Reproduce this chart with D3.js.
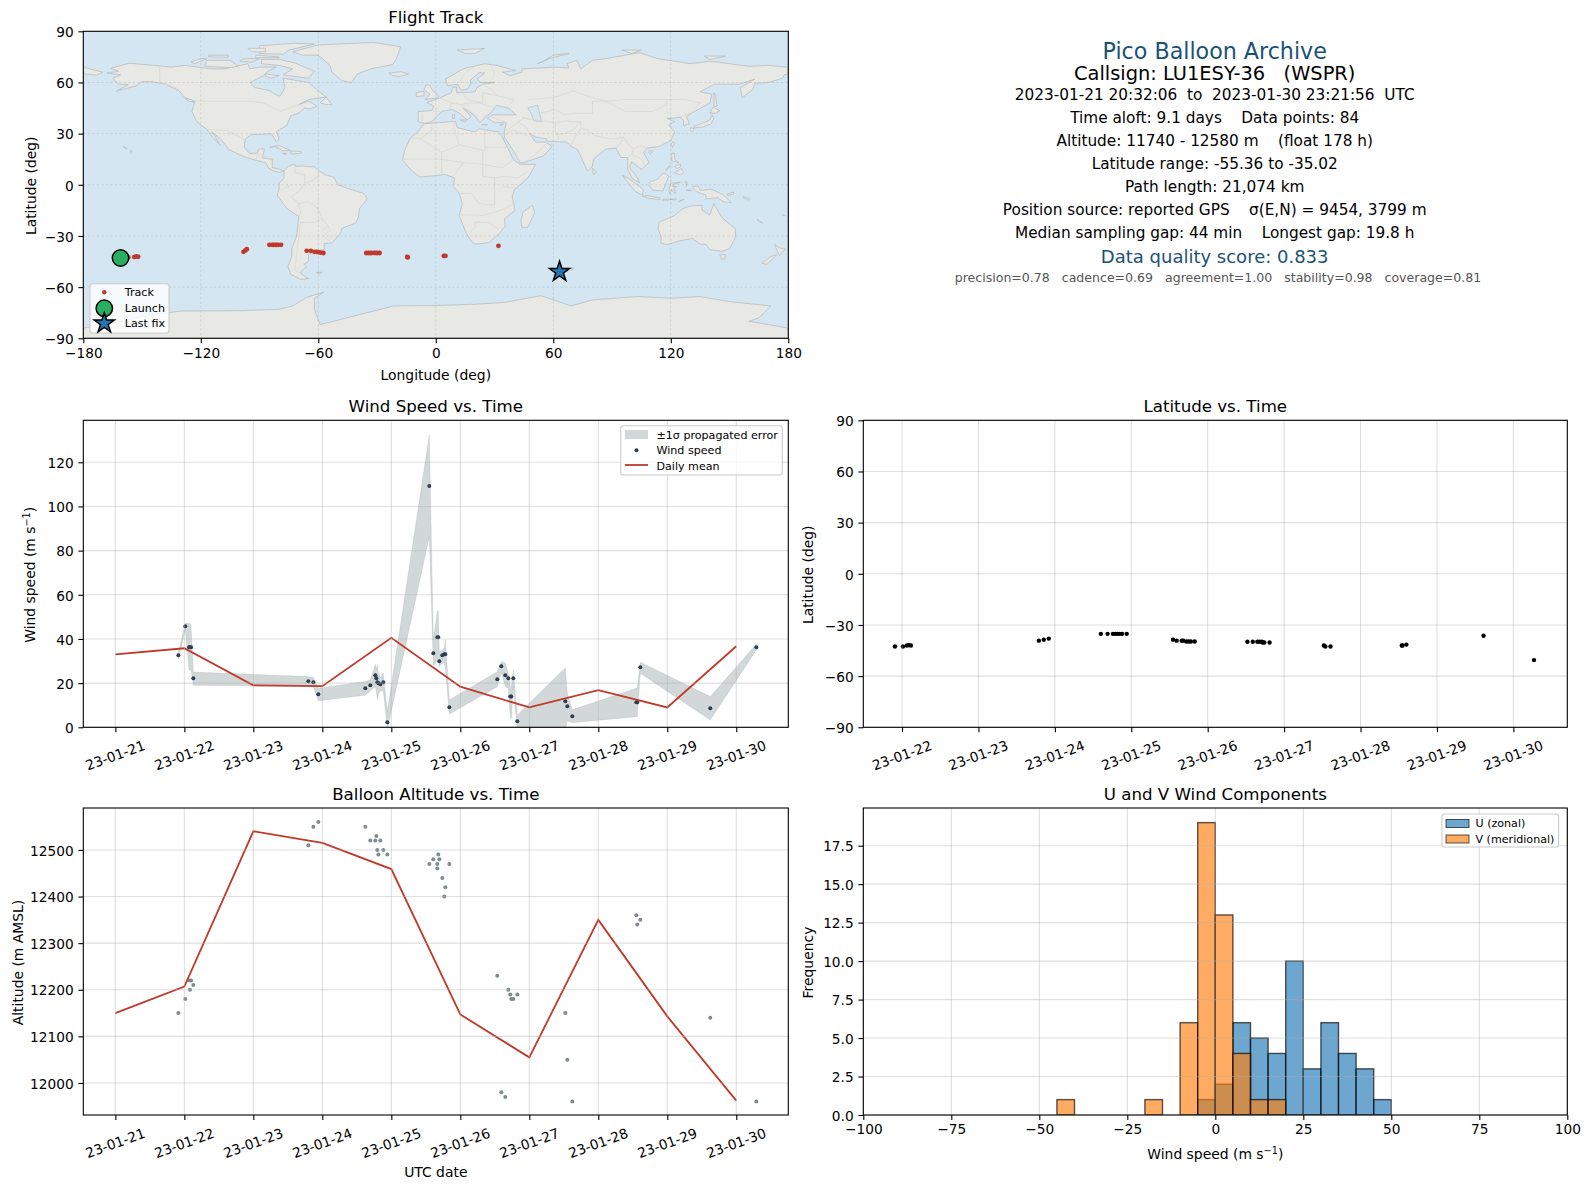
<!DOCTYPE html>
<html>
<head>
<meta charset="utf-8">
<script src="https://cdn.jsdelivr.net/npm/d3@7"></script>
<style>
body { margin: 0; background: #fff; }
text { font-family: "DejaVu Sans", sans-serif; fill: #000; white-space: pre; }
</style>
</head>
<body>
<script>
// ---- data ----
// days are counted from 2023-01-21 00:00 UTC
var windDays = [0.913,1.014,1.068,1.082,1.097,1.13,2.797,2.87,2.942,3.623,3.696,3.768,3.783,3.797,3.812,3.841,3.884,3.942,4.551,4.609,4.667,4.681,4.696,4.739,4.768,4.783,4.841,5.536,5.594,5.652,5.696,5.725,5.739,5.768,5.826,6.522,6.551,6.623,7.551,7.565,7.609,8.623,9.29];
var windSpeed = [32.6,45.8,36.3,36.3,36.3,22.2,20.8,20.4,15,17.7,19,23.6,22.2,20.4,20,19.5,20.4,2.3,109.2,33.5,40.8,40.8,29.9,32.6,33.1,33.1,9.1,21.8,27.6,23.6,22.2,14,14,22.2,2.7,11.8,9.5,5,11.3,11.3,27.2,8.6,36.3];
var windUpper = [34,47.2,47,47,46.5,25,23,22.5,17.7,20.7,21.5,28.5,26,28.5,25,22.5,24.5,7,132.5,39.6,52.7,52.7,34,35,36,39.6,12.4,25.2,29.8,29,24.5,18.4,18.4,26,5.6,27,15.4,7.9,17.7,17.7,29.5,13.9,37.6];
var windLower = [31,44,26,26,26,19,18.7,18.3,12,14.5,16.5,18.4,16,12.6,15,16.5,16.5,-1,86.4,28,30,30,27.5,29,29,26.7,6,18.4,25,18.4,17.7,4,4,18.4,-1.2,-1,3,2.1,4.8,4.8,24.5,3.3,35];
var meanDays = [0,1,2,3,4,5,6,7,8,9];
var meanSpeed = [33,35.8,19,18.6,40.5,18.4,9,16.8,9,36.7];
var meanAlt = [12150,12207,12540,12515,12459,12147,12055,12350,12143,11962];

var altDays = [0.913,1.014,1.068,1.082,1.097,1.13,2.797,2.87,2.942,3.623,3.696,3.768,3.783,3.797,3.812,3.841,3.884,3.942,4.551,4.609,4.667,4.667,4.681,4.696,4.739,4.768,4.783,4.841,5.536,5.594,5.652,5.696,5.725,5.739,5.768,5.826,6.522,6.551,6.623,7.551,7.565,7.609,8.623,9.29];
var altValues = [12150,12180,12220,12200,12220,12210,12510,12550,12560,12550,12520,12520,12530,12500,12490,12520,12500,12490,12470,12480,12470,12460,12490,12480,12440,12400,12420,12470,12230,11980,11970,12200,12190,12180,12180,12190,12150,12050,11960,12360,12340,12350,12140,11960];

var latDays = [0.907,1.012,1.064,1.088,1.117,2.79,2.855,2.92,3.602,3.69,3.76,3.79,3.82,3.85,3.88,3.94,4.547,4.594,4.66,4.68,4.72,4.75,4.78,4.83,5.52,5.59,5.65,5.68,5.71,5.72,5.74,5.81,6.52,6.54,6.607,7.54,7.55,7.6,8.61,9.27];
var latValues = [-42.6,-42.6,-42,-41.8,-42,-39.2,-38.6,-38,-35.2,-35.2,-35.2,-35.2,-35.2,-35.2,-35.2,-35.2,-38.6,-39.2,-39.2,-39.2,-39.7,-39.7,-39.7,-39.7,-39.8,-39.8,-39.8,-39.8,-39.8,-40.3,-40.3,-40.3,-42,-42.6,-42.6,-42,-42,-41.5,-36.3,-50.6];

var trackLon = [-157,-154,-153,-152,-98.2,-97.4,-96.5,-85,-83.6,-82.9,-82,-81.2,-80.3,-79,-65.9,-63.8,-62,-60.8,-60,-58.8,-57.4,-35.5,-34.3,-33.1,-31.7,-30.9,-30,-28.7,-14.6,-14.3,4.1,4.9,32];
var trackLat = [-42.6,-42.4,-42,-42.2,-39.3,-38.6,-37.8,-35.2,-35.2,-35.2,-35.2,-35.2,-35.2,-35.2,-38.7,-38.7,-39.3,-39.3,-39.5,-39.8,-40,-40,-40,-40,-39.9,-39.9,-40,-40,-42.3,-42.6,-41.7,-41.7,-35.8];
var launchPos = [-161, -42.9];
var lastFix = [63.2, -51];

var binEdges = [-45,-40,-35,-30,-25,-20,-15,-10,-5,0,5,10,15,20,25,30,35,40,45,50];
var uCounts = [0,0,0,0,0,0,0,0,1,2,6,5,4,10,3,6,4,3,1];
var vCounts = [1,0,0,0,0,1,0,6,19,13,4,1,1,0,0,0,0,0,0];

var infoLines = [
  "Pico Balloon Archive",
  "Callsign: LU1ESY-36   (WSPR)",
  "2023-01-21 20:32:06  to  2023-01-30 23:21:56  UTC",
  "Time aloft: 9.1 days    Data points: 84",
  "Altitude: 11740 - 12580 m    (float 178 h)",
  "Latitude range: -55.36 to -35.02",
  "Path length: 21,074 km",
  "Position source: reported GPS    \u03c3(E,N) = 9454, 3799 m",
  "Median sampling gap: 44 min    Longest gap: 19.8 h",
  "Data quality score: 0.833",
  "precision=0.78   cadence=0.69   agreement=1.00   stability=0.98   coverage=0.81"
];

// coarse land outlines, lon/lat
var landShapes = [
  // north america
  [[-141,69.7],[-156.5,71.3],[-166,68.3],[-162,66.5],[-168,65.6],[-161,64.5],[-165,62.5],[-162,59],[-157,58.7],[-163,55],[-153,58],[-150,60.5],[-145,60.5],[-138,59],[-131,55],[-128,51],[-123,49],[-124.5,43],[-122,37],[-117,32.5],[-114,28],[-110,23],[-112,27],[-114.5,31],[-110,27],[-105.5,20.5],[-97,16],[-92,14.5],[-87,13],[-85.5,10],[-83,8.2],[-80,7.3],[-77.5,8],[-80,9.3],[-83.5,10],[-83.5,15],[-88.5,15.8],[-87.5,21],[-90.5,21],[-91,18.6],[-95,18.3],[-97.8,22],[-97.3,27],[-94,29.5],[-89.5,29.5],[-84,30],[-81.5,25.3],[-80,27],[-81.5,31],[-76,35],[-74,40.5],[-70,42],[-67,45],[-64.5,44.5],[-60.5,46],[-65,49],[-70,47],[-65,50],[-56,51.5],[-60,55],[-65,60],[-70,61],[-78,62.5],[-77,57],[-79.5,52],[-82,53],[-85,55.3],[-92.5,57],[-94.7,60],[-88,64],[-86,66.5],[-81.5,69],[-90,69],[-95,68],[-96,71],[-108,68],[-115,68],[-128,70],[-135,69]],
  // south america
  [[-77.5,8],[-75.5,10.8],[-72,12],[-71.5,10.8],[-68,11],[-62,10.5],[-57,6],[-52,4.5],[-50,0],[-44,-2.5],[-37,-5],[-35,-8],[-39,-14],[-39.5,-19],[-41,-22.5],[-48,-25.5],[-48.7,-28.5],[-53,-34],[-57,-34.5],[-57,-38],[-62,-39],[-65,-41],[-65,-45],[-67.5,-46.5],[-66,-48],[-69,-51],[-68.5,-52.5],[-65,-55],[-69,-55.5],[-74,-52.5],[-75.5,-48],[-73.5,-42],[-73.5,-37],[-71,-30],[-70,-18.5],[-76,-14],[-81,-6],[-80,-2.5],[-80,1],[-77.5,4]],
  // africa
  [[-6,35.8],[10,37.2],[11,33.5],[15,32.3],[20,31],[22,32.8],[32,31],[34,28],[37,21],[39.5,15],[43,12],[51,12],[47,4],[40,-3],[39,-7],[40.5,-15],[35,-20],[35.5,-24],[32.5,-28.5],[27,-34],[20,-34.8],[18,-33],[15,-27],[12,-18],[13.5,-11],[12,-5],[9,-1],[9.5,4],[5,6],[-4,5],[-8,4.5],[-13,9],[-17,14.5],[-16,20],[-13,27.5],[-10,30]],
  // eurasia
  [[-9,37],[-9,43],[-2,43.5],[-1,46],[-4.5,48.3],[2,51],[8,54],[8.5,57],[10.5,57.5],[10.5,54],[14,54],[20,54.5],[21,57],[24,59],[30,60],[23,60],[21,62],[25,65.5],[22,65.8],[17.5,61],[18,59.5],[16,56],[13,55.5],[11,59],[6,58],[5,62],[14,68],[25,71],[31,70],[41,67],[34,66],[38,64],[44,66],[44,68],[54,68.5],[60,69],[68,68.5],[67,71],[72,73],[74,68],[80,73],[87,74],[104,77.5],[113,74],[130,71],[140,72.5],[160,69.5],[170,70],[180,69],[180,65],[178,64.5],[177,62.5],[170,60],[163,59.5],[162,56],[156.5,51],[155.5,57],[163,62],[155,59],[142,59],[135,54.5],[141,53],[140,48],[132,43],[128,40],[129.5,36],[126.5,34.5],[126.5,37.5],[125,39.7],[121,39],[118,39],[122,37],[119,35],[122,31],[120,26],[114,22.5],[108,21.5],[106,19],[109,13],[105,9],[100,13.5],[99,10],[103,4],[104,1.3],[100.5,3.5],[98,9],[98,16],[94.5,16],[92,21.5],[87,21],[80.5,15],[80,11],[77.5,8],[73,19],[72,21],[69,22.5],[67,25],[57,25.5],[56.5,27],[51,28],[48,30],[51,25],[56,25],[59.5,22.5],[55,17],[45,13],[43,13],[39,21],[35,28],[35,31],[36,36.5],[30,36.5],[26.5,39],[29,41],[41,41],[37,45],[31,46.5],[28,42],[26,40.5],[24,38],[22.5,36.5],[19.5,41],[14,45],[18,40],[16,38],[12,42],[8.5,44.2],[3,43],[0,39.5],[-2,37],[-5.5,36]],
  // chukotka past the date line
  [[-180,69],[-170,66],[-173,64.3],[-180,65]],
  // antarctica
  [[-180,-84],[-160,-80],[-150,-77],[-130,-74],[-100,-73.8],[-80,-73],[-73,-71],[-66,-66],[-57.3,-63],[-62,-66.5],[-62,-73],[-59,-82],[-38.6,-76],[-21.5,-71],[0,-70.8],[20,-70],[35,-69],[53.6,-65],[69,-71],[80,-67.5],[103,-65.5],[120,-66.5],[135,-65.5],[150,-68.5],[171,-71],[165,-78],[160,-80],[180,-84],[180,-90],[-180,-90]],
  // arctic canada
  [[-80,73.5],[-72,71.5],[-67,69],[-62,66.5],[-65,62.5],[-72,63.5],[-78,64.5],[-73,68],[-80,70],[-89,71],[-89,73.5]],
  [[-105,73],[-117,73],[-118,69.5],[-105,68.7],[-101,69.5]],
  [[-120,74],[-125,72],[-123,71],[-117,74]],
  [[-90,77],[-78,76.5],[-75,79],[-62,82.5],[-72,83],[-90,81.5]],
  [[-92,76],[-80,75],[-80,74.5],[-92,74.5]],
  [[-116,76],[-106,76],[-106,74.8],[-116,75]],
  [[-96,80],[-87,80],[-87,78],[-94,78]],
  [[-98,74],[-90,74],[-94,72],[-100,72.5]],
  [[-87,65],[-80,64],[-84,62.5],[-87,63.5]],
  [[-59,48],[-56,51.5],[-53,47],[-56,47]],
  [[-128,50.5],[-125,50],[-123.5,48.4],[-126,49]],
  // greenland, iceland, europe islands
  [[-73,78],[-60,82],[-32,83.5],[-18,81],[-20,74],[-22,70.5],[-33,68],[-40,65],[-43,60],[-48,61],[-53,66],[-54,70],[-60,76],[-68,76]],
  [[-24,65.5],[-18,66.3],[-14,65],[-18,63.5],[-22,64]],
  [[-5,58.5],[-3,58.5],[-2,56],[0,53.5],[1.5,52],[1,51],[-5.5,50],[-3,53],[-6,56]],
  [[-10,54],[-6,55],[-6,52.2],[-10,51.7]],
  [[11,79],[25,80],[20,77],[15,77]],
  [[52,71],[58,74],[68,77],[60,76],[55,72.5]],
  [[95,79],[105,79],[100,77]],
  [[137,75.5],[148,75.5],[140,73.5]],
  [[12.5,38],[15.5,38],[15,36.7]],
  [[8.3,41],[9.7,41],[9.5,39],[8.5,39]],
  [[23.5,35.5],[26.3,35.2],[24,35]],
  [[32.5,35],[34.5,35.6],[33.5,34.6]],
  // asia pacific islands
  [[142,54],[143,52],[143.5,46],[142,46],[142,50]],
  [[140,42],[141.5,45.5],[145,43.5],[143,42]],
  [[132,34.5],[136,36],[140,38],[141,41],[142,39],[140.5,35.5],[136,33.8],[132,33.5]],
  [[130,33.5],[132,33],[131,31],[130,32]],
  [[121,25],[122,24.5],[120.8,22],[120,23.5]],
  [[109,20],[111,19.7],[109.5,18.2],[108.6,19]],
  [[120.5,18.5],[122,18.5],[122,15],[124,13],[120.5,14]],
  [[122,7],[125.5,9.5],[126.5,7],[125,5.8]],
  [[122,11],[125,12],[125,10.5],[123,9.5]],
  [[117.2,8.5],[119.5,11.3],[119,10],[117.5,8.3]],
  [[109,1.5],[113,3.2],[116.5,7],[119,5],[117.5,1],[116,-3.5],[111,-3.2],[109,-0.5]],
  [[95.3,5.6],[98,4],[104,-1],[106,-3],[105.5,-6],[102,-4],[99,0]],
  [[105.3,-6.5],[108.5,-6.5],[114.5,-7.7],[114.5,-8.6],[108,-7.8]],
  [[116,-8.5],[119,-8.4],[119,-9],[116,-9]],
  [[119.5,-8.5],[123,-8.2],[122.5,-8.9]],
  [[124,-10],[127,-8.4],[125,-9.2]],
  [[119.5,-5.5],[119,-3],[120,1],[125,1.5],[121,0.3],[121,-1],[123,-1],[121.5,-2],[122.5,-5],[121,-4],[120.5,-2.7]],
  [[127.5,2],[128.5,1.5],[128,-0.5]],
  [[128,-3],[130.5,-3],[130,-3.7]],
  [[131,-1],[134,-0.8],[135,-3.3],[141,-2.6],[147,-6],[151,-10.5],[147,-10],[144,-7.6],[138,-8.3],[138,-6],[133,-4],[132,-2.8]],
  [[148.5,-5.6],[152,-4.2],[152,-5.5],[149,-6.3]],
  [[157,-7],[160,-8],[160,-9],[157.5,-8]],
  // australia and around
  [[114,-22],[122,-18],[126,-14],[130,-12.5],[136,-12],[136,-15],[140,-17.5],[142,-11],[146,-19],[153,-26],[153,-31],[150,-37.5],[146,-39],[140,-38],[138,-35],[135,-34.8],[131,-31.5],[124,-33],[118,-35],[115,-34.3],[115,-30],[113.5,-26]],
  [[145,-41],[148,-41],[147.5,-43.5],[146,-43.5]],
  [[166.5,-46],[171,-42],[174,-41],[172,-43.5],[169,-46.7]],
  [[173,-35],[175.5,-37],[178.5,-37.7],[175.5,-41.5],[174.5,-39]],
  [[164,-20.2],[167,-22.3],[165.5,-22]],
  [[177,-17.5],[178.5,-18],[177.5,-18.3]],
  // the rest
  [[49.3,-12],[50.5,-16],[47,-25],[44,-25],[43.5,-21],[44.5,-16]],
  [[80,9.7],[82,7.5],[80.5,6]],
  [[-85,22],[-80,23],[-74.2,20.2],[-78,19.9],[-82,22.5]],
  [[-74,19.8],[-69,19.5],[-68.5,18.5],[-74,18]],
  [[-78.3,18.4],[-76.3,18.2],[-77,17.8]],
  [[-61,-51.5],[-58,-51.3],[-59,-52.3]],
  [[68.5,-49],[70.5,-49],[70,-49.8]],
  [[-156,20.2],[-155,19.8],[-155.7,19]],
  [[-159.5,22.2],[-157.7,21.4],[-158.5,21.2]]
];
var lakeShapes = [
  [[47,45],[52,46.8],[53,42],[54,37],[50,37.5],[49,41]]
];
var borderLines = [
  [[-141,69.7],[-141,60.5],[-131,56]],
  [[-123,49],[-95,49],[-88,48],[-83,45],[-79,43],[-75,45],[-69,47.3],[-67,45]],
  [[-117,32.5],[-106,31.7],[-97.3,26]],
  [[-92,14.5],[-91,17.5],[-88.5,18]],
  [[-72,12],[-72,7],[-67,6],[-67,1],[-70,-4],[-74,-7],[-70,-11],[-69,-16],[-70,-18.5]],
  [[-60,8.5],[-60,5],[-64,2],[-67,1]],
  [[-80,-3.5],[-75,-1],[-77.5,2]],
  [[-70,-11],[-65,-10],[-60,-14],[-58,-20],[-55,-24],[-54,-27],[-57.5,-30],[-53,-34]],
  [[-69,-22],[-70,-30],[-71,-40],[-72,-50],[-69,-52]],
  [[-69,-22],[-62,-22],[-58,-20]],
  [[-58,-27],[-55,-24]],
  [[-8,27],[-2,32],[-2,35]],
  [[-13,27.5],[-8,27],[3,19],[12,23.5],[10,30],[9,37]],
  [[12,23.5],[25,20],[25,31.5]],
  [[25,22],[37,22]],
  [[-17,15],[-5,15],[3,15],[14,13],[24,12],[34,10],[40,15]],
  [[3,19],[3,7]],
  [[14,13],[9,5]],
  [[24,20],[24,5],[30,4],[35,5],[42,4],[47,8]],
  [[12,-5],[18,-5],[22,-11],[30,-12],[30,-4],[30,4]],
  [[34,-1],[41,-2]],
  [[12,-17.5],[24,-18],[33,-15],[40,-11]],
  [[17,-29],[20,-25],[20,-22],[27,-22],[32,-26]],
  [[2,51],[6,49],[8,48],[7,44]],
  [[-2,43.5],[3,42.5]],
  [[-7,42],[-7,37]],
  [[14,54],[15,51],[18,49.5],[24,48],[24,54]],
  [[8,48],[13,47],[17,48],[22,48],[29,45.5]],
  [[13,46],[19,42]],
  [[24,54],[32,52],[40,50],[38,47]],
  [[24,59],[28,56],[32,52]],
  [[12,60],[15,66],[20,69]],
  [[28,60],[30,65],[28,70]],
  [[26,41],[36,36.5]],
  [[36,32],[39,34],[42,37],[45,39],[48,38.5]],
  [[35,29],[39,32],[47,29]],
  [[42,37],[46,34],[48,30]],
  [[44,39.5],[48,38.5],[61,36.5],[61,31],[63,27],[61,25]],
  [[61,36.5],[66,37.5],[71,37],[74,37],[71,33],[66,30],[61,29.5]],
  [[74,37],[74,33],[71,28],[69,23]],
  [[74,33],[78,32],[81,29],[88,27],[92,27],[96,28],[94,24],[92,21.5]],
  [[96,28],[98,24],[101,21],[100,18],[98,16]],
  [[101,21],[105,23],[108,21.5]],
  [[100,18],[105,15],[107,11]],
  [[53,42],[61,44],[66,41],[71,42],[80,42],[80,49],[87,49]],
  [[47,50],[60,51],[70,55],[80,51],[87,49],[97,50],[108,50],[118,50],[127,50],[135,48],[131,43]],
  [[87,49],[97,43],[111,43],[118,47],[118,50]],
  [[125,40],[130,42.5]],
  [[45,13],[52,19],[56,24]],
  [[141,-2.6],[141,-9]]
];

// ---- layout of the six panels ----
var colLeft = 83.3, colRight = 863.3, leftW = 705, rightW = 704, panelH = 307;
var rowMap = 31.3, rowWind = 420.3, rowAlt = 808;
var tickFont = "13.7px", labelFont = "13.9px", titleFont = "16.65px", legendFont = "11.1px";

var svg = d3.select("body").append("svg")
    .attr("width", 1589)
    .attr("height", 1189)
    .attr("viewBox", "0 0 1589 1189");

var dayToDate = function(d) { return new Date(Date.UTC(2023, 0, 21) + d * 864e5); };
var fmtDate = d3.utcFormat("%y-%m-%d");
var clipCount = 0;

function addPanel(left, top, w, title) {
    var g = svg.append("g").attr("transform", "translate(" + left + "," + top + ")");
    var id = "clip" + (clipCount++);
    g.append("clipPath").attr("id", id).append("rect").attr("width", w).attr("height", panelH);
    g.append("text").attr("x", w / 2).attr("y", -8.5).attr("text-anchor", "middle")
        .style("font-size", titleFont).text(title);
    var body = g.append("g").attr("clip-path", "url(#" + id + ")");
    return { g: g, body: body, w: w };
}

function addGrid(p, x, y, xTicks, yTicks) {
    var grid = p.g.append("g").attr("class", "grid");
    grid.selectAll("line.v").data(xTicks).enter().append("line").attr("class", "v")
        .attr("x1", x).attr("x2", x).attr("y1", 0).attr("y2", panelH);
    grid.selectAll("line.h").data(yTicks).enter().append("line").attr("class", "h")
        .attr("y1", y).attr("y2", y).attr("x1", 0).attr("x2", p.w);
    grid.selectAll("line").attr("stroke", "#b0b0b0").attr("stroke-opacity", 0.4).attr("stroke-width", 1.1);
    return grid;
}

function addAxes(p, xAxis, yAxis, rotate) {
    var ax = p.g.append("g").attr("transform", "translate(0," + panelH + ")")
        .call(xAxis.tickSizeOuter(0).tickSize(4.9).tickPadding(4.8));
    var ay = p.g.append("g").call(yAxis.tickSizeOuter(0).tickSize(4.9).tickPadding(4.8));
    [ax, ay].forEach(function(a) {
        a.select(".domain").remove();
        a.selectAll("line").attr("stroke", "#000").attr("stroke-width", 1.1);
        a.selectAll("text").style("font-size", tickFont).style("font-family", "DejaVu Sans");
    });
    ay.selectAll("text").attr("dy", "0.38em");
    if (rotate) {
        ax.selectAll("text")
            .attr("text-anchor", "middle")
            .attr("x", 0).attr("y", 0).attr("dy", "0.36em")
            .attr("transform", "translate(-0.6,28) rotate(-20)");
    }
    p.g.append("rect").attr("width", p.w).attr("height", panelH)
        .attr("fill", "none").attr("stroke", "#000").attr("stroke-width", 1.1);
}

function yLabel(p, dx, parts) {
    var t = p.g.append("text").attr("text-anchor", "middle")
        .attr("transform", "translate(" + dx + "," + (panelH / 2 + 1) + ") rotate(-90)")
        .style("font-size", labelFont);
    parts(t);
}
function xLabel(p, dy, parts) {
    var t = p.g.append("text").attr("text-anchor", "middle")
        .attr("x", p.w / 2).attr("y", panelH + dy).style("font-size", labelFont);
    parts(t);
}
function windUnit(t, label) {
    t.append("tspan").text(label + " (m s");
    t.append("tspan").attr("dy", -5).style("font-size", "9.7px").text("\u22121");
    t.append("tspan").attr("dy", 5).text(")");
}
function legendBox(g, x, y, w, h) {
    g.append("rect").attr("x", x).attr("y", y).attr("width", w).attr("height", h).attr("rx", 2.5)
        .attr("fill", "#fff").attr("fill-opacity", 0.8).attr("stroke", "#ccc").attr("stroke-width", 1.1);
}
function legendText(g, x, y, s) {
    g.append("text").attr("x", x).attr("y", y).attr("dy", "0.36em").style("font-size", legendFont).text(s);
}

// ---- flight track map ----
var mapX = d3.scaleLinear().domain([-180, 180]).range([0, leftW]);
var mapY = d3.scaleLinear().domain([-90, 90]).range([panelH, 0]);
var mapPanel = addPanel(colLeft, rowMap, leftW, "Flight Track");
var lonLat = d3.line().x(function(d) { return mapX(d[0]); }).y(function(d) { return mapY(d[1]); });

mapPanel.body.append("rect").attr("width", leftW).attr("height", panelH).attr("fill", "#D4E6F1");
mapPanel.body.selectAll("path.land").data(landShapes).enter().append("path").attr("class", "land")
    .attr("d", function(d) { return lonLat(d) + "Z"; })
    .attr("fill", "#E8E8E4").attr("stroke", "#b4b8ba").attr("stroke-width", 0.7);
mapPanel.body.selectAll("path.lake").data(lakeShapes).enter().append("path").attr("class", "lake")
    .attr("d", function(d) { return lonLat(d) + "Z"; })
    .attr("fill", "#D4E6F1").attr("stroke", "#b4b8ba").attr("stroke-width", 0.6);
mapPanel.body.selectAll("path.border").data(borderLines).enter().append("path").attr("class", "border")
    .attr("d", lonLat).attr("fill", "none").attr("stroke", "#d6d6d2").attr("stroke-width", 0.7);

var lonTicks = [-180, -120, -60, 0, 60, 120, 180], latTicks = [-90, -60, -30, 0, 30, 60, 90];
addGrid(mapPanel, mapX, mapY, lonTicks, latTicks).selectAll("line")
    .attr("stroke", "#888").attr("stroke-opacity", 0.3).attr("stroke-width", 0.7).attr("stroke-dasharray", "2.5,2");

mapPanel.body.selectAll("circle.track").data(trackLon).enter().append("circle").attr("class", "track")
    .attr("cx", function(d) { return mapX(d); })
    .attr("cy", function(d, i) { return mapY(trackLat[i]); })
    .attr("r", 2.4).attr("fill", "#C0392B");
mapPanel.body.append("circle").attr("cx", mapX(launchPos[0])).attr("cy", mapY(launchPos[1])).attr("r", 8.2)
    .attr("fill", "#27AE60").attr("stroke", "#000").attr("stroke-width", 1.5);
var starPath = d3.symbol().type(d3.symbolStar).size(125);
mapPanel.body.append("path").attr("d", starPath)
    .attr("transform", "translate(" + mapX(lastFix[0]) + "," + mapY(lastFix[1]) + ")")
    .attr("fill", "#1F77B4").attr("stroke", "#000").attr("stroke-width", 1.5);

var signedInt = function(d) { return String(d).replace("-", "\u2212"); };
addAxes(mapPanel,
    d3.axisBottom(mapX).tickValues(lonTicks).tickFormat(signedInt),
    d3.axisLeft(mapY).tickValues(latTicks).tickFormat(signedInt));
xLabel(mapPanel, 41.5, function(t) { t.text("Longitude (deg)"); });
yLabel(mapPanel, -47, function(t) { t.text("Latitude (deg)"); });

var mapLeg = svg.append("g");
legendBox(mapLeg, 90, 283.7, 79, 49.3);
mapLeg.append("circle").attr("cx", 104.3).attr("cy", 292.3).attr("r", 2.2).attr("fill", "#C0392B");
mapLeg.append("circle").attr("cx", 104.3).attr("cy", 308.3).attr("r", 8.2)
    .attr("fill", "#27AE60").attr("stroke", "#000").attr("stroke-width", 1.5);
mapLeg.append("path").attr("d", starPath).attr("transform", "translate(104.3,323.3)")
    .attr("fill", "#1F77B4").attr("stroke", "#000").attr("stroke-width", 1.5);
legendText(mapLeg, 124.8, 292.3, "Track");
legendText(mapLeg, 124.8, 308.3, "Launch");
legendText(mapLeg, 124.8, 323.3, "Last fix");

// ---- summary text ----
var infoY = [51, 73, 94.5, 117.5, 140.5, 163.5, 186.5, 209.5, 232.5, 257, 277.5];
var infoSize = [22.2, 19.4, 15.3, 15.3, 15.3, 15.3, 15.3, 15.3, 15.3, 18, 12.55];
var infoFill = ["#1A5276", "#000", "#000", "#000", "#000", "#000", "#000", "#000", "#000", "#1A5276", "#555"];
svg.append("g").selectAll("text").data(infoLines).enter().append("text")
    .attr("x", function(d, i) { return i === 10 ? 1218 : 1214.7; })
    .attr("y", function(d, i) { return infoY[i]; })
    .attr("text-anchor", "middle").attr("dy", "0.36em")
    .style("font-size", function(d, i) { return infoSize[i] + "px"; })
    .style("fill", function(d, i) { return infoFill[i]; })
    .text(function(d) { return d; });

// ---- wind speed ----
var timeX = d3.scaleUtc().domain([dayToDate(-0.4645), dayToDate(9.754)]).range([0, leftW]);
var windY = d3.scaleLinear().domain([0, 139]).range([panelH, 0]);
var dayTicks = d3.utcDay.range(dayToDate(0), dayToDate(10));
var windPanel = addPanel(colLeft, rowWind, leftW, "Wind Speed vs. Time");
addGrid(windPanel, timeX, windY, dayTicks, d3.range(0, 121, 20));

var band = d3.area()
    .x(function(d) { return timeX(dayToDate(d)); })
    .y0(function(d, i) { return windY(windLower[i]); })
    .y1(function(d, i) { return windY(windUpper[i]); });
windPanel.body.append("path").attr("d", band(windDays)).attr("fill", "#7F8C8D").attr("fill-opacity", 0.35)
    .attr("stroke", "#7F8C8D").attr("stroke-opacity", 0.2).attr("stroke-width", 0.8);
windPanel.body.selectAll("circle").data(windDays).enter().append("circle")
    .attr("cx", function(d) { return timeX(dayToDate(d)); })
    .attr("cy", function(d, i) { return windY(windSpeed[i]); })
    .attr("r", 2).attr("fill", "#2C3E50");
var windMeanLine = d3.line()
    .x(function(d) { return timeX(dayToDate(d)); })
    .y(function(d, i) { return windY(meanSpeed[i]); });
windPanel.body.append("path").attr("d", windMeanLine(meanDays)).attr("fill", "none")
    .attr("stroke", "#C0392B").attr("stroke-width", 1.8);

addAxes(windPanel,
    d3.axisBottom(timeX).tickValues(dayTicks).tickFormat(fmtDate),
    d3.axisLeft(windY).tickValues(d3.range(0, 121, 20)), true);
yLabel(windPanel, -48, function(t) { windUnit(t, "Wind speed"); });

var windLeg = svg.append("g");
legendBox(windLeg, 620.7, 425.7, 161.6, 49.3);
windLeg.append("rect").attr("x", 625).attr("y", 430).attr("width", 23).attr("height", 9)
    .attr("fill", "#7F8C8D").attr("fill-opacity", 0.35);
windLeg.append("circle").attr("cx", 636.5).attr("cy", 450.3).attr("r", 2).attr("fill", "#2C3E50");
windLeg.append("line").attr("x1", 625).attr("x2", 648).attr("y1", 465).attr("y2", 465)
    .attr("stroke", "#C0392B").attr("stroke-width", 1.8);
legendText(windLeg, 656.5, 435, "\u00b11\u03c3 propagated error");
legendText(windLeg, 656.5, 450.3, "Wind speed");
legendText(windLeg, 656.5, 466, "Daily mean");

// ---- latitude ----
var latTimeX = d3.scaleUtc().domain([dayToDate(0.493), dayToDate(9.706)]).range([0, rightW]);
var latY = d3.scaleLinear().domain([-90, 90]).range([panelH, 0]);
var latDayTicks = d3.utcDay.range(dayToDate(1), dayToDate(10));
var latPanel = addPanel(colRight, rowWind, rightW, "Latitude vs. Time");
addGrid(latPanel, latTimeX, latY, latDayTicks, latTicks);
latPanel.body.selectAll("circle").data(latDays).enter().append("circle")
    .attr("cx", function(d) { return latTimeX(dayToDate(d)); })
    .attr("cy", function(d, i) { return latY(latValues[i]); })
    .attr("r", 2.2).attr("fill", "#000");
addAxes(latPanel,
    d3.axisBottom(latTimeX).tickValues(latDayTicks).tickFormat(fmtDate),
    d3.axisLeft(latY).tickValues(latTicks).tickFormat(signedInt), true);
yLabel(latPanel, -50, function(t) { t.text("Latitude (deg)"); });

// ---- altitude ----
var altY = d3.scaleLinear().domain([11931.3, 12590]).range([panelH, 0]);
var altTicks = d3.range(12000, 12501, 100);
var altPanel = addPanel(colLeft, rowAlt, leftW, "Balloon Altitude vs. Time");
addGrid(altPanel, timeX, altY, dayTicks, altTicks);
altPanel.body.selectAll("circle").data(altDays).enter().append("circle")
    .attr("cx", function(d) { return timeX(dayToDate(d)); })
    .attr("cy", function(d, i) { return altY(altValues[i]); })
    .attr("r", 2).attr("fill", "#7F8C8D");
var altMeanLine = d3.line()
    .x(function(d) { return timeX(dayToDate(d)); })
    .y(function(d, i) { return altY(meanAlt[i]); });
altPanel.body.append("path").attr("d", altMeanLine(meanDays)).attr("fill", "none")
    .attr("stroke", "#C0392B").attr("stroke-width", 1.8);
addAxes(altPanel,
    d3.axisBottom(timeX).tickValues(dayTicks).tickFormat(fmtDate),
    d3.axisLeft(altY).tickValues(altTicks).tickFormat(d3.format("d")), true);
xLabel(altPanel, 62, function(t) { t.text("UTC date"); });
yLabel(altPanel, -60.5, function(t) { t.text("Altitude (m AMSL)"); });

// ---- U and V histogram ----
var histX = d3.scaleLinear().domain([-100, 100]).range([0, rightW]);
var histY = d3.scaleLinear().domain([0, 19.95]).range([panelH, 0]);
var histXTicks = d3.range(-100, 101, 25), histYTicks = d3.range(0, 17.6, 2.5);
var histPanel = addPanel(colRight, rowAlt, rightW, "U and V Wind Components");
addGrid(histPanel, histX, histY, histXTicks, histYTicks);

[[uCounts, "#1F77B4"], [vCounts, "#FF7F0E"]].forEach(function(s) {
    var bars = s[0].map(function(c, i) { return { c: c, x0: binEdges[i], x1: binEdges[i + 1] }; })
        .filter(function(b) { return b.c > 0; });
    histPanel.body.append("g").selectAll("rect").data(bars).enter().append("rect")
        .attr("x", function(b) { return histX(b.x0); })
        .attr("width", function(b) { return histX(b.x1) - histX(b.x0); })
        .attr("y", function(b) { return histY(b.c); })
        .attr("height", function(b) { return histY(0) - histY(b.c); })
        .attr("fill", s[1]).attr("fill-opacity", 0.65)
        .attr("stroke", "#000").attr("stroke-opacity", 0.65).attr("stroke-width", 1.4);
});
addAxes(histPanel,
    d3.axisBottom(histX).tickValues(histXTicks).tickFormat(signedInt),
    d3.axisLeft(histY).tickValues(histYTicks).tickFormat(d3.format(".1f")));
xLabel(histPanel, 44, function(t) { windUnit(t, "Wind speed"); });
yLabel(histPanel, -50, function(t) { t.text("Frequency"); });

var histLeg = svg.append("g");
legendBox(histLeg, 1442, 814, 116.6, 33);
histLeg.append("rect").attr("x", 1446).attr("y", 819.5).attr("width", 23).attr("height", 8)
    .attr("fill", "#1F77B4").attr("fill-opacity", 0.65).attr("stroke", "#000").attr("stroke-opacity", 0.65);
histLeg.append("rect").attr("x", 1446).attr("y", 835).attr("width", 23).attr("height", 8)
    .attr("fill", "#FF7F0E").attr("fill-opacity", 0.65).attr("stroke", "#000").attr("stroke-opacity", 0.65);
legendText(histLeg, 1475.5, 823.5, "U (zonal)");
legendText(histLeg, 1475.5, 839, "V (meridional)");
</script>
</body>
</html>
